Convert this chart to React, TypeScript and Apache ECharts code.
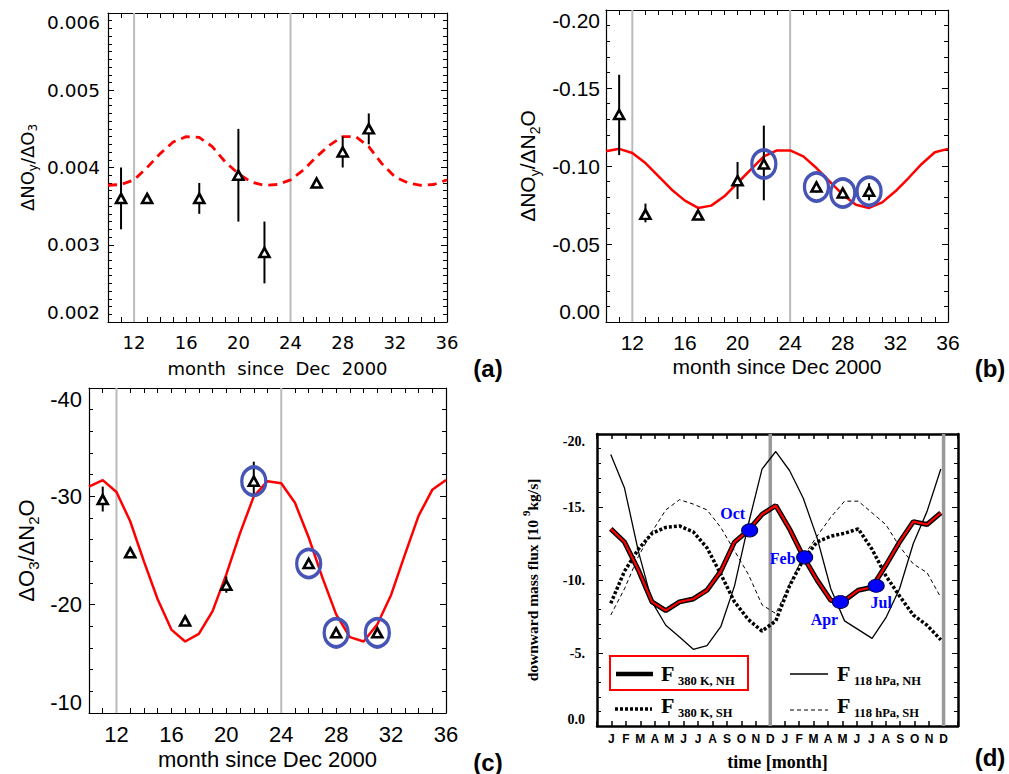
import { useEffect, useRef } from 'react';
import * as echarts from 'echarts';

// ---------- data ----------
const MODEL_MONTHS = [10, 11, 12, 13, 14, 15, 16, 17, 18, 19, 20, 21, 22, 23, 24, 25, 26, 27, 28, 29, 30, 31, 32, 33, 34, 35, 36];
const GRAY_MONTHS = [12, 24];

// panel (a)
const A_MODEL = [0.00377, 0.00378, 0.00384, 0.0040, 0.00418, 0.00433, 0.0044, 0.00439, 0.00427, 0.00407, 0.00392, 0.00381, 0.00377, 0.00378, 0.00384, 0.00397, 0.00414, 0.00429, 0.0044, 0.0044, 0.00427, 0.00405, 0.00388, 0.0038, 0.00377, 0.00378, 0.00384];
const A_OBS_MONTHS = [11, 13, 17, 20, 22, 26, 28, 30];
const A_OBS = [0.0036, 0.0036, 0.0036, 0.0039, 0.0029, 0.0038, 0.0042, 0.0045];
const A_ERR_LO = [0.0032, null, 0.0034, 0.0033, 0.0025, null, 0.0040, 0.0043];
const A_ERR_HI = [0.0040, null, 0.0038, 0.0045, 0.0033, null, 0.0044, 0.0047];

// panel (b)
const B_MODEL = [-0.1094, -0.111, -0.1083, -0.1019, -0.0934, -0.0848, -0.0778, -0.0731, -0.0746, -0.0806, -0.0891, -0.0976, -0.1062, -0.110, -0.110, -0.1062, -0.0987, -0.0902, -0.0816, -0.0752, -0.0731, -0.0767, -0.0838, -0.0923, -0.1013, -0.1088, -0.111];
const B_OBS_MONTHS = [11, 13, 17, 20, 22, 26, 28, 30];
const B_OBS = [-0.133, -0.069, -0.0686, -0.0906, -0.1013, -0.0865, -0.0827, -0.0838];
const B_ERR_LO = [-0.1585, -0.0759, null, -0.1026, -0.1259, -0.090, -0.086, -0.089];
const B_ERR_HI = [-0.107, -0.0639, null, -0.0788, -0.078, -0.083, -0.079, -0.078];
const B_CIRCLED = [22, 26, 28, 30];

// panel (c)
const C_MODEL = [-30.9, -31.5, -30.4, -27.7, -24.0, -20.5, -17.7, -16.6, -17.3, -19.4, -22.8, -26.6, -30.0, -31.4, -31.2, -29.4, -26.2, -22.5, -19.1, -17.0, -16.6, -18.2, -20.9, -24.6, -28.2, -30.6, -31.5];
const C_OBS_MONTHS = [11, 13, 17, 20, 22, 26, 28, 31];
const C_OBS = [-29.7, -24.8, -18.5, -21.8, -31.4, -23.8, -17.4, -17.4];
const C_ERR_LO = [-30.9, -25.2, null, -22.6, -33.2, null, null, null];
const C_ERR_HI = [-28.6, -24.4, null, -21.1, -30.2, null, null, null];
const C_CIRCLED = [22, 26, 28, 31];

// panel (d)
const D_MONTH_LABELS = ['J', 'F', 'M', 'A', 'M', 'J', 'J', 'A', 'S', 'O', 'N', 'D', 'J', 'F', 'M', 'A', 'M', 'J', 'J', 'A', 'S', 'O', 'N', 'D'];
const D_STEPS = [1, 2, 3, 4, 5, 6, 7, 8, 9, 10, 11, 12, 13, 14, 15, 16, 17, 18, 19, 20, 21, 22, 23, 24, 25];
const D_380_NH = [-13.5, -12.6, -10.7, -8.5, -7.9, -8.5, -8.7, -9.3, -10.6, -12.6, -13.4, -14.5, -15.1, -13.5, -11.6, -10.0, -8.6, -8.6, -9.3, -9.5, -11.0, -12.6, -14.0, -13.8, -14.6];
const D_118_NH = [-18.6, -16.3, -12.0, -8.5, -6.9, -6.1, -5.25, -5.5, -6.8, -9.6, -13.8, -17.6, -18.8, -17.5, -15.6, -12.9, -9.4, -7.2, -6.6, -6.0, -7.4, -9.4, -12.5, -14.7, -17.6];
const D_380_SH = [-8.4, -10.6, -12.1, -13.2, -13.6, -13.7, -13.3, -12.2, -10.4, -8.5, -7.3, -6.5, -7.2, -9.6, -11.4, -12.6, -13.0, -13.2, -13.5, -12.1, -10.3, -8.9, -7.6, -6.9, -5.9];
const D_118_SH = [-7.6, -9.4, -11.6, -13.3, -14.8, -15.5, -15.2, -14.8, -13.6, -12.0, -10.4, -8.3, -7.7, -9.7, -11.6, -13.0, -14.3, -15.4, -15.4, -14.6, -13.8, -12.3, -11.1, -10.5, -8.8];
const D_MARK_NAMES = ['Oct', 'Feb', 'Apr', 'Jul'];
const D_MARK_STEP = [11.1, 15.1, 17.7, 20.3];
const D_MARK_VALUE = [-13.4, -11.55, -8.5, -9.6];
const D_GRAY_MONTHS = [12, 24];

// ---------- helpers ----------
const zip = (xs: number[], ys: number[]) => xs.map((x, i) => [x, ys[i]]);

function grayLines(xi: number, yi: number, months: number[], yRef: number, color: string, width: number) {
  return {
    type: 'custom', xAxisIndex: xi, yAxisIndex: yi, silent: true, z: 1,
    data: months.map((m) => [m, yRef]),
    renderItem: (params: any, api: any) => {
      const cs = params.coordSys;
      const x = api.coord([api.value(0), api.value(1)])[0];
      return { type: 'line', shape: { x1: x, y1: cs.y, x2: x, y2: cs.y + cs.height }, style: { stroke: color, lineWidth: width } };
    },
  };
}

function errorBars(xi: number, yi: number, months: number[], lo: (number | null)[], hi: (number | null)[]) {
  const data: number[][] = [];
  months.forEach((m, i) => {
    if (lo[i] != null && hi[i] != null) data.push([m, lo[i] as number, hi[i] as number]);
  });
  return {
    type: 'custom', xAxisIndex: xi, yAxisIndex: yi, silent: true, z: 4,
    data,
    encode: { x: 0, y: [1, 2] },
    renderItem: (_p: any, api: any) => {
      const a = api.coord([api.value(0), api.value(1)]);
      const b = api.coord([api.value(0), api.value(2)]);
      return { type: 'line', shape: { x1: a[0], y1: a[1], x2: b[0], y2: b[1] }, style: { stroke: '#000', lineWidth: 2 } };
    },
  };
}

function triangles(xi: number, yi: number, months: number[], vals: number[]) {
  return {
    type: 'scatter', xAxisIndex: xi, yAxisIndex: yi, silent: true, z: 5,
    symbol: 'triangle', symbolSize: [10, 9],
    itemStyle: { color: '#fff', borderColor: '#000', borderWidth: 2.6, opacity: 1 },
    data: zip(months, vals),
  };
}

function ellipses(xi: number, yi: number, months: number[], obsMonths: number[], obs: number[]) {
  return {
    type: 'scatter', xAxisIndex: xi, yAxisIndex: yi, silent: true, z: 6,
    symbol: 'circle', symbolSize: [24, 28],
    itemStyle: { color: 'rgba(0,0,0,0)', borderColor: '#4654b6', borderWidth: 3.5, opacity: 1 },
    data: months.map((m) => [m, obs[obsMonths.indexOf(m)]]),
  };
}

function monthAxes(gi: number, font: string, size: number, margin: number, name: string, nameSize: number, nameGap: number) {
  const base = {
    type: 'value', gridIndex: gi, min: 10, max: 36, interval: 1,
    axisLine: { show: true, onZero: false, lineStyle: { color: '#000', width: 1.2 } },
    axisTick: { show: true, inside: true, length: 5, lineStyle: { color: '#000', width: 1 } },
    splitLine: { show: false },
  };
  return [
    {
      ...base, position: 'bottom',
      axisLabel: { show: true, margin, fontFamily: font, fontSize: size, color: '#000', formatter: (v: number) => (v % 4 === 0 ? String(v) : '') },
      name, nameLocation: 'middle', nameGap,
      nameTextStyle: { fontFamily: font, fontSize: nameSize, color: '#000' },
    },
    { ...base, position: 'top', axisLabel: { show: false } },
  ];
}

function valueAxes(gi: number, min: number, max: number, interval: number, minorSplit: number, inverse: boolean, fmt: (v: number) => string,
  font: string, size: number, margin: number, name: string, nameGap: number, nameStyle: any, lineW = 1.2, tickLen = 6) {
  const base = {
    type: 'value', gridIndex: gi, min, max, interval, inverse,
    axisLine: { show: true, onZero: false, lineStyle: { color: '#000', width: lineW } },
    axisTick: { show: true, inside: true, length: tickLen, lineStyle: { color: '#000', width: 1 } },
    minorTick: { show: true, splitNumber: minorSplit, length: tickLen - 2, lineStyle: { color: '#000', width: 1 } },
    splitLine: { show: false },
    minorSplitLine: { show: false },
  };
  return [
    {
      ...base, position: 'left',
      axisLabel: {
        show: true, margin, fontFamily: font, fontSize: size, color: '#000', formatter: fmt,
        verticalAlignMinLabel: inverse ? 'top' : 'bottom',
        verticalAlignMaxLabel: inverse ? 'bottom' : 'top',
      },
      name, nameLocation: 'middle', nameGap, nameRotate: 90,
      nameTextStyle: nameStyle,
    },
    { ...base, position: 'right', axisLabel: { show: false } },
  ];
}

function subRich(font: string, size: number, subSize: number) {
  return {
    fontFamily: font, fontSize: size, color: '#000',
    rich: {
      n: { fontFamily: font, fontSize: size, color: '#000', verticalAlign: 'top', lineHeight: size + 2 },
      s: { fontFamily: font, fontSize: subSize, color: '#000', verticalAlign: 'top', lineHeight: subSize + 2, padding: [Math.round(size * 0.5), 0, 0, 0] },
    },
  };
}

function buildOption(): any {
  const DV = 'DejaVu Sans';
  const LS = 'Liberation Sans';
  const SERIF = 'Liberation Serif';

  const xA = monthAxes(0, DV, 18, 11, 'month\u00a0\u00a0since\u00a0\u00a0Dec\u00a0\u00a02000', 18, 37);
  const xB = monthAxes(1, LS, 21, 10, 'month since Dec 2000', 21, 34);
  const xC = monthAxes(2, LS, 22, 10, 'month since Dec 2000', 22, 35);

  const dxBase = {
    type: 'value', gridIndex: 3, min: 0, max: 25, interval: 1,
    axisLine: { show: true, onZero: false, lineStyle: { color: '#000', width: 2.5 } },
    axisTick: { show: true, inside: true, length: 5, lineStyle: { color: '#000', width: 1.5 } },
    splitLine: { show: false },
  };
  const xD = [
    {
      ...dxBase, position: 'bottom',
      axisLabel: {
        show: true, margin: 7, fontFamily: LS, fontWeight: 'bold', fontSize: 12, color: '#000',
        formatter: (v: number) => {
          const i = Math.round(v);
          return Math.abs(v - i) < 1e-6 && i >= 1 && i <= 24 ? D_MONTH_LABELS[i - 1] : '';
        },
      },
      name: 'time [month]', nameLocation: 'middle', nameGap: 27,
      nameTextStyle: { fontFamily: SERIF, fontWeight: 'bold', fontSize: 18, color: '#000' },
    },
    { ...dxBase, position: 'top', axisLabel: { show: false } },
  ];
  const xDhidden = { type: 'value', gridIndex: 3, min: 0, max: 26.25, show: false, splitLine: { show: false } };

  const yA = valueAxes(0, 0.002, 0.006, 0.001, 10, false, (v) => v.toFixed(3), DV, 18.5, 8,
    '{n|ΔNO}{s|y}{n|/ΔO}{s|3}', 70, subRich(DV, 18, 12));
  const yB = valueAxes(1, -0.2, 0, 0.05, 5, true, (v) => v.toFixed(2), LS, 21, 6,
    '{n|ΔNO}{s|y}{n|/ΔN}{s|2}{n|O}', 66, subRich(LS, 21, 14));
  const yC = valueAxes(2, -40, -10, 10, 5, true, (v) => String(Math.round(v)), LS, 22, 7,
    '{n|ΔO}{s|3}{n|/ΔN}{s|2}{n|O}', 50, subRich(LS, 22, 15));
  const yD = valueAxes(3, -20, 0, 5, 5, true, (v) => (v === 0 ? '0.0' : `${Math.round(v)}.`), SERIF, 14, 12,
    '{n|downward mass flux [10 }{p|9}{n|kg/s]}', 57, {
      fontFamily: SERIF, fontSize: 15.5, fontWeight: 'bold', color: '#000',
      rich: {
        n: { fontFamily: SERIF, fontSize: 15.5, fontWeight: 'bold', color: '#000', verticalAlign: 'bottom', lineHeight: 17 },
        p: { fontFamily: SERIF, fontSize: 11, fontWeight: 'bold', color: '#000', verticalAlign: 'bottom', lineHeight: 11, padding: [0, 0, 9, 0] },
      },
    }, 2.5, 6);
  (yD[0] as any).axisLabel.fontWeight = 'bold';

  const xAxis = [...xA, ...xB, ...xC, ...xD, xDhidden];
  const yAxis = [...yA, ...yB, ...yC, ...yD];

  const series: any[] = [
    // (a)
    grayLines(0, 0, GRAY_MONTHS, 0.004, '#bbbbbb', 2),
    {
      type: 'line', xAxisIndex: 0, yAxisIndex: 0, data: zip(MODEL_MONTHS, A_MODEL), symbol: 'none', silent: true, z: 3,
      lineStyle: { color: '#ff0000', width: 2.8, type: [9, 6] },
    },
    errorBars(0, 0, A_OBS_MONTHS, A_ERR_LO, A_ERR_HI),
    triangles(0, 0, A_OBS_MONTHS, A_OBS),
    // (b)
    grayLines(2, 2, GRAY_MONTHS, -0.1, '#bbbbbb', 2),
    {
      type: 'line', xAxisIndex: 2, yAxisIndex: 2, data: zip(MODEL_MONTHS, B_MODEL), symbol: 'none', silent: true, z: 3,
      lineStyle: { color: '#ff0000', width: 2.5 },
    },
    errorBars(2, 2, B_OBS_MONTHS, B_ERR_LO, B_ERR_HI),
    triangles(2, 2, B_OBS_MONTHS, B_OBS),
    ellipses(2, 2, B_CIRCLED, B_OBS_MONTHS, B_OBS),
    // (c)
    grayLines(4, 4, GRAY_MONTHS, -20, '#bbbbbb', 2),
    {
      type: 'line', xAxisIndex: 4, yAxisIndex: 4, data: zip(MODEL_MONTHS, C_MODEL), symbol: 'none', silent: true, z: 3,
      lineStyle: { color: '#ff0000', width: 2.5 },
    },
    errorBars(4, 4, C_OBS_MONTHS, C_ERR_LO, C_ERR_HI),
    triangles(4, 4, C_OBS_MONTHS, C_OBS),
    ellipses(4, 4, C_CIRCLED, C_OBS_MONTHS, C_OBS),
    // (d)
    grayLines(6, 6, D_GRAY_MONTHS, -10, '#999999', 3.5),
    {
      type: 'line', xAxisIndex: 8, yAxisIndex: 6, data: zip(D_STEPS, D_118_SH), symbol: 'none', silent: true, z: 3,
      lineStyle: { color: '#000', width: 1, type: [4, 3] },
    },
    {
      type: 'line', xAxisIndex: 8, yAxisIndex: 6, data: zip(D_STEPS, D_118_NH), symbol: 'none', silent: true, z: 3,
      lineStyle: { color: '#000', width: 1.3 },
    },
    {
      type: 'line', xAxisIndex: 8, yAxisIndex: 6, data: zip(D_STEPS, D_380_SH), symbol: 'none', silent: true, z: 3,
      lineStyle: { color: '#000', width: 3.5, type: [3, 2] },
    },
    {
      type: 'line', xAxisIndex: 8, yAxisIndex: 6, data: zip(D_STEPS, D_380_NH), symbol: 'none', silent: true, z: 4,
      lineStyle: { color: '#000', width: 5 },
    },
    {
      type: 'line', xAxisIndex: 8, yAxisIndex: 6, data: zip(D_STEPS, D_380_NH), symbol: 'none', silent: true, z: 5,
      lineStyle: { color: '#ff0000', width: 2.2 },
    },
    {
      type: 'scatter', xAxisIndex: 8, yAxisIndex: 6, silent: true, z: 10,
      symbol: 'circle', symbolSize: [16, 13],
      itemStyle: { color: '#0000ff', borderColor: '#000044', borderWidth: 1, opacity: 1 },
      data: D_MARK_NAMES.map((n, i) => {
        const offs = [[-17, -17], [-22, 1], [-16, 18], [5, 17]];
        return {
          value: [D_MARK_STEP[i], D_MARK_VALUE[i]],
          label: {
            show: true, formatter: n, position: 'inside', offset: offs[i],
            fontFamily: SERIF, fontWeight: 'bold', fontSize: 16, color: '#0000ff',
          },
        };
      }),
    },
  ];

  const t = (text: string, x: number, y: number, font: string, align = 'left') => ({
    type: 'text', x, y, silent: true,
    style: { text, font, fill: '#000', align, verticalAlign: 'middle' },
  });
  const ln = (x1: number, y1: number, x2: number, y2: number, w: number, dash?: number[]) => ({
    type: 'line', silent: true, shape: { x1, y1, x2, y2 },
    style: { stroke: '#000', lineWidth: w, lineDash: dash },
  });
  const bigF = `bold 22px "${SERIF}"`;
  const subF = `bold 12.5px "${SERIF}"`;
  const panelF = `bold 24px "${LS}"`;

  const graphic = [
    t('(a)', 488, 368, panelF, 'center'),
    t('(b)', 990, 368, panelF, 'center'),
    t('(c)', 488, 762, panelF, 'center'),
    t('(d)', 990, 757, panelF, 'center'),
    { type: 'rect', silent: true, shape: { x: 610, y: 656, width: 138, height: 34 }, style: { fill: '#fff', stroke: '#ff0000', lineWidth: 2 }, z: 50 },
    { ...ln(616, 674, 653, 674, 4.5), z: 51 },
    { ...t('F', 661, 673, bigF), z: 51 },
    { ...t('380 K, NH', 678, 681, subF), z: 51 },
    { ...ln(790, 674, 828, 674, 1.5), z: 51 },
    { ...t('F', 837, 673, bigF), z: 51 },
    { ...t('118 hPa, NH', 854, 681, subF), z: 51 },
    { ...ln(615, 709, 652, 709, 3.5, [3, 2]), z: 51 },
    { ...t('F', 661, 705, bigF), z: 51 },
    { ...t('380 K, SH', 678, 713, subF), z: 51 },
    { ...ln(790, 710, 828, 710, 1, [4, 3]), z: 51 },
    { ...t('F', 837, 705, bigF), z: 51 },
    { ...t('118 hPa, SH', 854, 713, subF), z: 51 },
  ];

  return {
    animation: false,
    backgroundColor: '#fff',
    grid: [
      { left: 108, top: 13, width: 339, height: 309 },
      { left: 606, top: 10, width: 342, height: 312 },
      { left: 89, top: 388, width: 357, height: 325 },
      { left: 597, top: 434, width: 361, height: 292 },
    ],
    xAxis,
    yAxis,
    series,
    graphic,
  };
}

export default function App() {
  const ref = useRef<HTMLDivElement>(null);
  useEffect(() => {
    const chart = echarts.init(ref.current as HTMLDivElement, null, { renderer: 'svg' });
    chart.setOption(buildOption());
    return () => chart.dispose();
  }, []);
  return (
    <div
      ref={ref}
      style={{ position: 'fixed', left: 0, top: 0, width: 1009, height: 774, background: '#fff' }}
    />
  );
}
